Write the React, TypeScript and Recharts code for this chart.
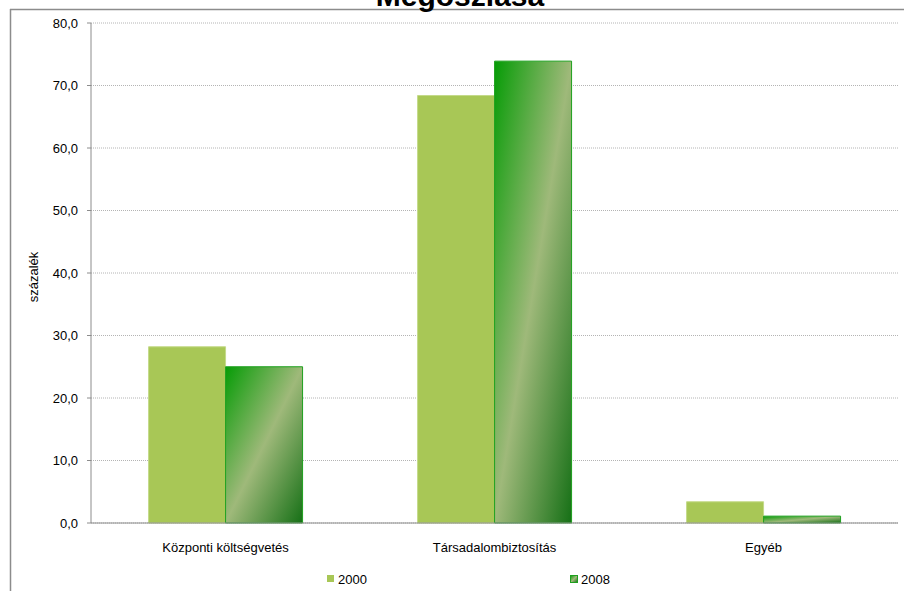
import { Bar, BarChart, CartesianGrid, XAxis, YAxis } from "recharts";

const categories = ["Központi költségvetés", "Társadalombiztosítás", "Egyéb"];
const values2000 = [28.2, 68.4, 3.4];
const values2008 = [25.0, 73.9, 1.1];
const yTicks = [0, 10, 20, 30, 40, 50, 60, 70, 80];

const data = categories.map((name, i) => ({
  name,
  y2000: values2000[i],
  y2008: values2008[i],
}));

const font = "'Liberation Sans', Arial, sans-serif";
const fmt = (v: number) => v.toFixed(1).replace(".", ",");

export default function App() {
  return (
    <div style={{ position: "absolute", left: 0, top: 0, width: 904, height: 591, background: "#fff", fontFamily: font }}>
      <BarChart
        width={904}
        height={591}
        data={data}
        margin={{ top: 23, right: 6, left: 0, bottom: 38 }}
        barCategoryGap="21.4%"
        barGap={0}
      >
        <defs>
          <linearGradient id="g2008" x1="0" y1="0" x2="1" y2="1">
            <stop offset="0" stopColor="#069c06" />
            <stop offset="0.5" stopColor="#9fb97a" />
            <stop offset="1" stopColor="#167016" />
          </linearGradient>
        </defs>
        <CartesianGrid vertical={false} stroke="#b4b4b4" strokeDasharray="1 1" />
        <XAxis
          dataKey="name"
          height={30}
          tickLine={false}
          tickMargin={14}
          axisLine={{ stroke: "#8c8c8c" }}
          tick={{ fill: "#000", fontSize: 13, fontFamily: font }}
        />
        <YAxis
          width={91}
          domain={[0, 80]}
          ticks={yTicks}
          tickFormatter={fmt}
          tickSize={4}
          tickMargin={9}
          axisLine={{ stroke: "#8c8c8c" }}
          tickLine={{ stroke: "#8c8c8c" }}
          tick={{ fill: "#000", fontSize: 13, fontFamily: font }}
        />
        <Bar dataKey="y2000" fill="#a8c756" stroke="#c4da8a" strokeWidth={1} isAnimationActive={false} />
        <Bar dataKey="y2008" fill="url(#g2008)" stroke="#1ea01e" strokeWidth={1} isAnimationActive={false} />
      </BarChart>
      <svg
        width={904}
        height={591}
        style={{ position: "absolute", left: 0, top: 0, pointerEvents: "none" }}
      >
        <defs>
          <linearGradient id="g2008leg" x1="0" y1="0" x2="1" y2="1">
            <stop offset="0" stopColor="#069c06" />
            <stop offset="0.5" stopColor="#9fb97a" />
            <stop offset="1" stopColor="#167016" />
          </linearGradient>
        </defs>
        <line x1={10} y1={9.5} x2={904} y2={9.5} stroke="#8c8c8c" strokeWidth={1.5} />
        <line x1={10.5} y1={9} x2={10.5} y2={591} stroke="#8c8c8c" strokeWidth={1.5} />
        <text x={460} y={6} textAnchor="middle" fontSize={30} fontWeight="bold" fontFamily={font} fill="#000">
          Megoszlása
        </text>
        <text
          x={33}
          y={277}
          transform="rotate(-90 33 277)"
          textAnchor="middle"
          dominantBaseline="central"
          fontSize={13}
          fontFamily={font}
          fill="#000"
        >
          százalék
        </text>
        <rect x={327} y={575} width={7} height={7} fill="#a8c756" />
        <text x={338} y={584} fontSize={13} fontFamily={font} fill="#000">2000</text>
        <rect x={570.5} y={575.5} width={7} height={7} fill="url(#g2008leg)" stroke="#1ea01e" />
        <text x={581} y={584} fontSize={13} fontFamily={font} fill="#000">2008</text>
      </svg>
    </div>
  );
}
